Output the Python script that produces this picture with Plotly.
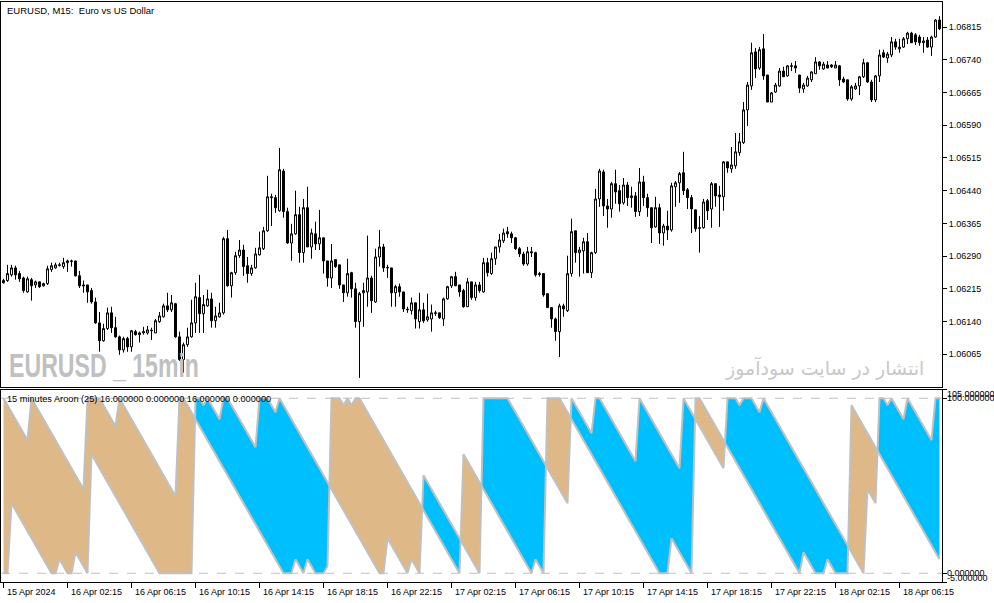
import plotly.graph_objects as go

# ---------------- data ----------------
open_ = [
1.06234,1.06234,1.06247,1.06263,1.06250,1.06240,1.06208,1.06236,1.06224,1.06231,
1.06222,1.06227,1.06259,1.06263,1.06270,1.06266,1.06275,1.06279,1.06279,1.06245,
1.06224,1.06224,1.06211,1.06185,1.06137,1.06096,1.06124,1.06160,1.06126,1.06105,
1.06075,1.06101,1.06082,1.06117,1.06110,1.06114,1.06114,1.06119,1.06114,1.06140,
1.06151,1.06176,1.06167,1.06181,1.06105,1.06053,1.06087,1.06105,1.06137,1.06195,
1.06158,1.06176,1.06192,1.06142,1.06151,1.06160,1.06330,1.06222,1.06252,1.06291,
1.06304,1.06268,1.06250,1.06263,1.06293,1.06307,1.06348,1.06426,1.06424,1.06394,
1.06485,1.06392,1.06320,1.06341,1.06385,1.06298,1.06401,1.06311,1.06341,1.06318,
1.06332,1.06279,1.06240,1.06282,1.06270,1.06224,1.06206,1.06252,1.06215,1.06140,
1.06206,1.06208,1.06240,1.06185,1.06288,1.06311,1.06263,1.06263,1.06206,1.06220,
1.06208,1.06167,1.06165,1.06183,1.06140,1.06167,1.06144,1.06146,1.06160,1.06160,
1.06146,1.06192,1.06222,1.06243,1.06224,1.06211,1.06174,1.06231,1.06195,1.06224,
1.06208,1.06275,1.06250,1.06284,1.06311,1.06325,1.06346,1.06341,1.06332,1.06307,
1.06295,1.06272,1.06300,1.06298,1.06250,1.06250,1.06204,1.06172,1.06146,1.06117,
1.06176,1.06165,1.06250,1.06348,1.06298,1.06302,1.06323,1.06252,1.06298,1.06421,
1.06483,1.06405,1.06398,1.06456,1.06440,1.06412,1.06453,1.06424,1.06428,1.06392,
1.06460,1.06424,1.06401,1.06357,1.06401,1.06343,1.06359,1.06350,1.06449,1.06458,
1.06481,1.06442,1.06424,1.06396,1.06355,1.06355,1.06417,1.06398,1.06456,1.06430,
1.06426,1.06506,1.06490,1.06497,1.06527,1.06550,1.06625,1.06680,1.06758,1.06721,
1.06765,1.06705,1.06643,1.06666,1.06680,1.06714,1.06703,1.06726,1.06726,1.06705,
1.06673,1.06680,1.06694,1.06708,1.06735,1.06719,1.06728,1.06728,1.06721,1.06726,
1.06696,1.06694,1.06650,1.06673,1.06680,1.06701,1.06733,1.06689,1.06648,1.06703,
1.06756,1.06744,1.06751,1.06781,1.06765,1.06769,1.06788,1.06801,1.06797,1.06792,
1.06779,1.06785,1.06769,1.06792,1.06831]

high_ = [
1.06238,1.06270,1.06270,1.06268,1.06256,1.06243,1.06243,1.06240,1.06234,1.06231,
1.06229,1.06268,1.06275,1.06275,1.06275,1.06286,1.06282,1.06282,1.06279,1.06256,
1.06234,1.06224,1.06217,1.06195,1.06162,1.06135,1.06172,1.06174,1.06151,1.06108,
1.06105,1.06105,1.06121,1.06121,1.06117,1.06128,1.06130,1.06126,1.06146,1.06162,
1.06181,1.06206,1.06201,1.06183,1.06117,1.06092,1.06126,1.06190,1.06229,1.06247,
1.06201,1.06213,1.06206,1.06174,1.06183,1.06334,1.06350,1.06254,1.06300,1.06327,
1.06316,1.06288,1.06270,1.06309,1.06346,1.06357,1.06474,1.06433,1.06430,1.06538,
1.06490,1.06401,1.06364,1.06440,1.06403,1.06421,1.06449,1.06353,1.06369,1.06396,
1.06332,1.06279,1.06318,1.06282,1.06270,1.06224,1.06284,1.06254,1.06229,1.06208,
1.06229,1.06337,1.06245,1.06307,1.06350,1.06318,1.06270,1.06263,1.06224,1.06227,
1.06208,1.06174,1.06195,1.06183,1.06206,1.06183,1.06204,1.06179,1.06165,1.06160,
1.06195,1.06222,1.06243,1.06254,1.06224,1.06215,1.06240,1.06231,1.06231,1.06231,
1.06286,1.06286,1.06298,1.06311,1.06341,1.06353,1.06357,1.06346,1.06334,1.06311,
1.06300,1.06311,1.06311,1.06300,1.06254,1.06250,1.06204,1.06172,1.06149,1.06181,
1.06181,1.06291,1.06376,1.06348,1.06311,1.06332,1.06343,1.06300,1.06444,1.06490,
1.06488,1.06421,1.06460,1.06488,1.06453,1.06469,1.06460,1.06449,1.06437,1.06492,
1.06474,1.06433,1.06401,1.06426,1.06410,1.06364,1.06394,1.06458,1.06462,1.06483,
1.06529,1.06446,1.06430,1.06396,1.06382,1.06421,1.06421,1.06460,1.06456,1.06451,
1.06508,1.06506,1.06540,1.06572,1.06572,1.06643,1.06689,1.06779,1.06767,1.06769,
1.06799,1.06705,1.06666,1.06687,1.06721,1.06724,1.06728,1.06733,1.06737,1.06705,
1.06687,1.06703,1.06714,1.06746,1.06737,1.06735,1.06737,1.06730,1.06737,1.06728,
1.06701,1.06694,1.06682,1.06687,1.06703,1.06742,1.06735,1.06694,1.06705,1.06763,
1.06763,1.06758,1.06792,1.06788,1.06788,1.06792,1.06804,1.06804,1.06801,1.06797,
1.06792,1.06792,1.06795,1.06833,1.06840]

low_ = [
1.06227,1.06231,1.06243,1.06236,1.06231,1.06206,1.06206,1.06188,1.06217,1.06217,
1.06220,1.06224,1.06254,1.06261,1.06266,1.06261,1.06254,1.06266,1.06243,1.06217,
1.06206,1.06183,1.06181,1.06135,1.06071,1.06094,1.06121,1.06114,1.06103,1.06064,
1.06069,1.06071,1.06071,1.06108,1.06092,1.06110,1.06110,1.06098,1.06114,1.06137,
1.06149,1.06162,1.06162,1.06103,1.06050,1.06023,1.06082,1.06103,1.06114,1.06114,
1.06114,1.06174,1.06126,1.06126,1.06149,1.06156,1.06220,1.06195,1.06247,1.06286,
1.06245,1.06229,1.06245,1.06261,1.06291,1.06304,1.06346,1.06359,1.06389,1.06392,
1.06378,1.06318,1.06279,1.06339,1.06275,1.06275,1.06311,1.06284,1.06304,1.06304,
1.06250,1.06220,1.06217,1.06263,1.06215,1.06185,1.06197,1.06195,1.06126,1.06011,
1.06128,1.06174,1.06160,1.06183,1.06266,1.06254,1.06240,1.06174,1.06174,1.06197,
1.06162,1.06160,1.06156,1.06124,1.06124,1.06137,1.06140,1.06117,1.06153,1.06146,
1.06130,1.06190,1.06217,1.06222,1.06197,1.06172,1.06174,1.06190,1.06188,1.06206,
1.06206,1.06243,1.06247,1.06270,1.06298,1.06320,1.06332,1.06320,1.06304,1.06288,
1.06268,1.06268,1.06288,1.06243,1.06243,1.06197,1.06172,1.06126,1.06096,1.06059,
1.06151,1.06162,1.06243,1.06275,1.06243,1.06250,1.06252,1.06240,1.06295,1.06403,
1.06382,1.06355,1.06378,1.06410,1.06392,1.06408,1.06405,1.06401,1.06380,1.06382,
1.06405,1.06380,1.06320,1.06355,1.06318,1.06314,1.06327,1.06346,1.06403,1.06412,
1.06430,1.06398,1.06343,1.06346,1.06298,1.06353,1.06373,1.06355,1.06403,1.06357,
1.06394,1.06481,1.06481,1.06490,1.06520,1.06547,1.06588,1.06671,1.06698,1.06717,
1.06694,1.06643,1.06643,1.06664,1.06678,1.06701,1.06701,1.06714,1.06710,1.06664,
1.06664,1.06678,1.06689,1.06708,1.06717,1.06717,1.06721,1.06721,1.06721,1.06680,
1.06687,1.06646,1.06646,1.06671,1.06659,1.06698,1.06687,1.06643,1.06643,1.06689,
1.06744,1.06733,1.06746,1.06763,1.06756,1.06767,1.06776,1.06779,1.06774,1.06772,
1.06756,1.06767,1.06749,1.06790,1.06808]

close_ = [
1.06229,1.06250,1.06263,1.06247,1.06238,1.06211,1.06238,1.06222,1.06231,1.06220,
1.06227,1.06261,1.06268,1.06270,1.06269,1.06275,1.06279,1.06278,1.06245,1.06222,
1.06222,1.06208,1.06185,1.06137,1.06096,1.06124,1.06160,1.06126,1.06105,1.06075,
1.06101,1.06082,1.06119,1.06110,1.06114,1.06117,1.06121,1.06120,1.06142,1.06153,
1.06176,1.06167,1.06183,1.06105,1.06053,1.06087,1.06105,1.06137,1.06197,1.06158,
1.06179,1.06192,1.06142,1.06153,1.06160,1.06330,1.06222,1.06252,1.06291,1.06304,
1.06266,1.06250,1.06263,1.06295,1.06309,1.06348,1.06426,1.06424,1.06401,1.06488,
1.06392,1.06320,1.06341,1.06385,1.06298,1.06401,1.06311,1.06343,1.06318,1.06332,
1.06279,1.06240,1.06279,1.06266,1.06224,1.06206,1.06250,1.06215,1.06140,1.06204,
1.06211,1.06240,1.06188,1.06288,1.06311,1.06263,1.06264,1.06206,1.06220,1.06208,
1.06169,1.06168,1.06183,1.06146,1.06167,1.06142,1.06151,1.06160,1.06159,1.06149,
1.06192,1.06220,1.06243,1.06222,1.06208,1.06174,1.06231,1.06195,1.06224,1.06211,
1.06275,1.06252,1.06284,1.06311,1.06327,1.06343,1.06341,1.06332,1.06307,1.06295,
1.06272,1.06300,1.06298,1.06247,1.06248,1.06201,1.06172,1.06146,1.06117,1.06176,
1.06169,1.06250,1.06346,1.06298,1.06304,1.06323,1.06252,1.06298,1.06421,1.06485,
1.06405,1.06398,1.06456,1.06437,1.06410,1.06453,1.06424,1.06428,1.06392,1.06460,
1.06424,1.06401,1.06355,1.06401,1.06343,1.06359,1.06350,1.06451,1.06458,1.06479,
1.06440,1.06424,1.06398,1.06353,1.06354,1.06414,1.06394,1.06456,1.06428,1.06426,
1.06506,1.06492,1.06499,1.06529,1.06552,1.06625,1.06682,1.06756,1.06719,1.06763,
1.06703,1.06643,1.06664,1.06682,1.06714,1.06701,1.06726,1.06725,1.06721,1.06675,
1.06682,1.06698,1.06712,1.06735,1.06726,1.06730,1.06721,1.06724,1.06728,1.06694,
1.06689,1.06650,1.06678,1.06680,1.06701,1.06733,1.06689,1.06648,1.06703,1.06751,
1.06746,1.06753,1.06781,1.06769,1.06769,1.06788,1.06801,1.06779,1.06781,1.06779,
1.06783,1.06769,1.06792,1.06831,1.06811]

aroon_up = [
0,0,40,36,32,28,24,20,16,12,
8,4,0,0,8,4,0,0,12,8,
4,0,68,64,60,56,52,48,44,40,
36,32,28,24,20,16,12,8,4,0,
0,0,0,0,0,0,0,0,100,100,
96,100,96,92,88,100,100,96,92,88,
84,80,76,72,100,100,100,96,92,100,
96,92,88,84,80,76,72,68,64,60,
56,52,48,44,40,36,32,28,24,20,
16,12,8,4,0,0,20,16,12,8,
4,0,8,4,0,56,52,48,44,40,
36,32,28,24,20,16,12,8,4,0,
100,100,100,100,100,100,100,96,92,88,
84,80,76,72,68,64,60,56,52,48,
44,40,100,96,92,88,84,80,100,100,
96,92,88,84,80,76,72,68,64,100,
96,92,88,84,80,76,72,68,64,60,
100,96,92,88,84,80,76,72,68,64,
60,100,100,100,96,100,100,100,96,92,
100,96,92,88,84,80,76,72,68,64,
60,56,52,48,44,40,36,32,28,24,
20,16,12,8,4,0,48,44,40,100,
100,96,100,96,92,88,100,96,92,88,
84,80,76,100,100]

aroon_down = [
100,96,92,88,84,80,76,100,96,92,
88,84,80,76,72,68,64,60,56,52,
48,100,100,100,100,96,92,88,84,100,
96,92,88,84,80,76,72,68,64,60,
56,52,48,44,100,100,96,92,88,84,
80,76,72,68,64,60,56,52,48,44,
40,36,32,28,24,20,16,12,8,4,
0,0,0,8,4,0,8,4,0,0,
0,4,100,100,100,96,100,96,100,100,
96,92,88,84,80,76,72,68,64,60,
56,52,48,44,40,36,32,28,24,20,
16,12,8,4,0,68,64,60,56,52,
48,44,40,36,32,28,24,20,16,12,
8,4,0,8,4,0,100,100,100,100,
96,92,88,84,80,76,72,68,64,60,
56,52,48,44,40,36,32,28,24,20,
16,12,8,4,0,0,0,20,16,12,
8,4,0,100,100,96,92,88,84,80,
76,72,68,64,60,56,52,48,44,40,
36,32,28,24,20,16,12,8,4,0,
12,8,4,0,0,0,8,4,0,0,
0,0,96,92,88,84,80,76,72,68,
64,60,56,52,48,44,40,36,32,28,
24,20,16,12,8]

time_tick_bars = [0, 16, 32, 48, 64, 80, 96, 112, 128, 144, 160, 176, 192, 208, 224]
time_tick_labels = ["15 Apr 2024", "16 Apr 02:15", "16 Apr 06:15", "16 Apr 10:15",
                    "16 Apr 14:15", "16 Apr 18:15", "16 Apr 22:15", "17 Apr 02:15",
                    "17 Apr 06:15", "17 Apr 10:15", "17 Apr 14:15", "17 Apr 18:15",
                    "17 Apr 22:15", "18 Apr 02:15", "18 Apr 06:15"]
price_ticks = [1.06065, 1.06140, 1.06215, 1.06290, 1.06365, 1.06440,
               1.06515, 1.06590, 1.06665, 1.06740, 1.06815]
aroon_axis_labels = [(105, "105.000000"), (100, "100.000000"), (0, "0.000000"), (-5, "-5.000000")]

# ---------------- figure ----------------
n = len(close_)
bars = list(range(n))

fig = go.Figure()

fig.add_trace(go.Candlestick(
    x=bars, open=open_, high=high_, low=low_, close=close_,
    increasing=dict(line=dict(color="black", width=1), fillcolor="white"),
    decreasing=dict(line=dict(color="black", width=1), fillcolor="black"),
    whiskerwidth=0, showlegend=False, hoverinfo="skip",
    xaxis="x", yaxis="y"))

# filling between Aroon up / down, with crossing points inserted
fx, fu, fd = [], [], []
for i in range(n):
    fx.append(i); fu.append(aroon_up[i]); fd.append(aroon_down[i])
    if i < n - 1:
        d0 = aroon_up[i] - aroon_down[i]
        d1 = aroon_up[i + 1] - aroon_down[i + 1]
        if d0 * d1 < 0:
            t = d0 / (d0 - d1)
            yc = aroon_up[i] + t * (aroon_up[i + 1] - aroon_up[i])
            fx.append(i + t); fu.append(yc); fd.append(yc)
fmax = [max(a, b) for a, b in zip(fu, fd)]

common = dict(xaxis="x2", yaxis="y2", mode="lines", showlegend=False, hoverinfo="skip")
clear = dict(width=0, color="rgba(0,0,0,0)")
fig.add_trace(go.Scatter(x=fx, y=fd, line=clear, **common))
fig.add_trace(go.Scatter(x=fx, y=fmax, fill="tonexty", fillcolor="#00BFFF", line=clear, **common))
fig.add_trace(go.Scatter(x=fx, y=fu, line=clear, **common))
fig.add_trace(go.Scatter(x=fx, y=fmax, fill="tonexty", fillcolor="#DEB887", line=clear, **common))
fig.add_trace(go.Scatter(x=bars, y=aroon_up, line=dict(width=2, color="#C0C0C0"), **common))
fig.add_trace(go.Scatter(x=bars, y=aroon_down, line=dict(width=2, color="#C0C0C0"), **common))

W, H = 994, 603
ML, MR, MT, MB = 1, 52, 2, 21
plot_h = H - MT - MB
main_bottom_px = 387
sub_top_px = 389.5
main_dom = [(H - MB - main_bottom_px) / plot_h, 1]
sub_dom = [0, (H - MB - sub_top_px) / plot_h]

# 4 px per bar, bar centres on half pixels
xr = [-0.625, n - 0.375]
axis_font = dict(family="Liberation Sans, Arial, sans-serif", size=9, color="black")

fig.update_layout(
    width=W, height=H,
    margin=dict(l=ML, r=MR, t=MT, b=MB, autoexpand=False),
    paper_bgcolor="white", plot_bgcolor="white",
    hovermode=False, showlegend=False,
    xaxis=dict(domain=[0, 1], range=xr, anchor="y", showticklabels=False, ticks="",
               showgrid=False, zeroline=False, showline=True, mirror=True,
               linecolor="black", linewidth=1, rangeslider=dict(visible=False)),
    yaxis=dict(domain=main_dom, range=[1.059901, 1.068723], side="right", anchor="x",
               tickvals=price_ticks, ticktext=[f"{p:.5f}" for p in price_ticks],
               ticks="outside", ticklen=4, tickcolor="black", tickfont=axis_font,
               showgrid=False, zeroline=False, showline=True, mirror=True,
               linecolor="black", linewidth=1),
    xaxis2=dict(domain=[0, 1], range=xr, anchor="y2", tickvals=time_tick_bars,
                ticks="outside", ticklen=5, tickcolor="black", showticklabels=False,
                showgrid=False, zeroline=False, showline=True, mirror=True,
                linecolor="black", linewidth=1),
    yaxis2=dict(domain=sub_dom, range=[-5, 105], side="right", anchor="x2",
                tickvals=[-5, 0, 100, 105], ticks="outside", ticklen=4, tickcolor="black",
                showticklabels=False, showgrid=False, zeroline=False, showline=True,
                mirror=True, linecolor="black", linewidth=1),
)

# dashed levels
for lvl in (0, 100):
    fig.add_shape(type="line", xref="x2 domain", x0=0, x1=1, yref="y2", y0=lvl, y1=lvl,
                  line=dict(color="#C0C0C0", width=1, dash="dash"), layer="below")

ann = []
ann.append(dict(text="EURUSD, M15:  Euro vs US Dollar", xref="paper", yref="paper",
                x=0, y=1, xanchor="left", yanchor="top", xshift=4, yshift=-1,
                showarrow=False,
                font=dict(family="Liberation Sans, Arial, sans-serif", size=9.5, color="black")))
ann.append(dict(text="15 minutes Aroon (25) 16.000000 0.000000 16.000000 0.000000",
                xref="paper", yref="paper", x=0, y=sub_dom[1], xanchor="left",
                yanchor="top", xshift=4, yshift=-2, showarrow=False,
                font=dict(family="Liberation Sans, Arial, sans-serif", size=9.2, color="black")))
for b, lab in zip(time_tick_bars, time_tick_labels):
    ann.append(dict(text=lab, xref="x2", yref="paper", x=b, y=0, xanchor="left",
                    yanchor="top", xshift=1, yshift=-3, showarrow=False, font=axis_font))
shifts = {105: -4.5, 100: 0, 0: 0, -5: 4.5}
for v, lab in aroon_axis_labels:
    ann.append(dict(text=lab, xref="paper", yref="y2", x=1, y=v, xanchor="left",
                    yanchor="middle", xshift=3, yshift=shifts[v], showarrow=False,
                    font=axis_font))
# watermarks
ann.append(dict(text="<b>EURUSD _ 15min</b>", xref="paper", yref="paper",
                x=0, y=(H - MB - 366) / plot_h, xanchor="left", yanchor="middle",
                xshift=6, showarrow=False,
                font=dict(family="Liberation Sans, Arial, sans-serif",
                          size=33, color="#C0C0C0")))
ann.append(dict(text="انتشار در سایت سودآموز", xref="paper", yref="paper",
                x=1, y=(H - MB - 368) / plot_h, xanchor="right", yanchor="middle",
                xshift=-16, showarrow=False,
                font=dict(family="DejaVu Sans, sans-serif", size=19, color="#C8C8C8")))
fig.update_layout(annotations=ann)

post_js = """
document.body.style.margin = '0px';
document.body.style.padding = '0px';
document.querySelectorAll('text.annotation-text').forEach(function (t) {
  if (t.textContent === 'EURUSD _ 15min') {
    t.style.transformBox = 'fill-box';
    t.style.transformOrigin = '0% 50%';
    t.style.transform = 'scaleX(0.70)';
  }
});
"""

fig.write_html("out.html", config={"displayModeBar": False}, post_script=post_js)
